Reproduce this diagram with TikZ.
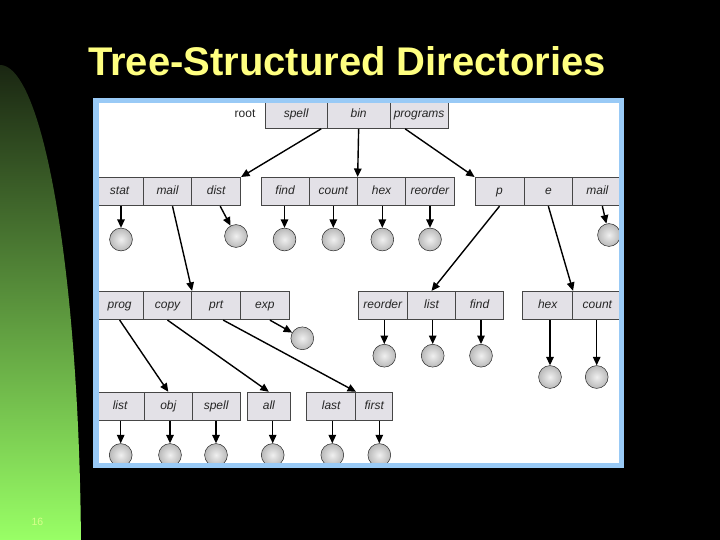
\documentclass[tikz,border=0pt]{standalone}
\usepackage{fontspec}
\setmainfont{Liberation Sans}
\usetikzlibrary{arrows.meta}
\definecolor{boxfill}{RGB}{227,225,231}
\definecolor{boxline}{RGB}{70,70,70}
\definecolor{framebl}{RGB}{153,202,246}
\definecolor{titleyel}{RGB}{255,255,128}
\definecolor{greentop}{RGB}{26,38,18}
\definecolor{greenmid}{RGB}{105,180,72}
\definecolor{greenbot}{RGB}{153,255,102}
\definecolor{pagenum}{RGB}{215,255,140}
\newcommand{\dirb}[5]{\node[dirbox, minimum width={#3-#2}] (#1) at ({(#2+#3)/2},#4) {#5};}
\begin{document}
\begin{tikzpicture}[x=1pt,y=-1pt,
  dirbox/.style={draw=boxline, line width=0.7pt, fill=boxfill, inner sep=0pt,
    text height=8.6pt, text depth=2.5pt,
    minimum height=28.5pt, font=\fontsize{12}{14}\selectfont\itshape, text=black!85},
  filec/.style={circle, draw=gray!30!black, line width=0.5pt, inner color=gray!12,
    outer color=gray!55, minimum size=22.8pt, inner sep=0pt},
  link/.style={line width=1.4pt, -{Triangle[length=8.5pt,width=7.5pt]}},
]
\useasboundingbox (0,0) rectangle (720,540);
\fill[black] (0,0) rectangle (720,540);
% green side band
\shade[top color=greentop, middle color=greenmid, bottom color=greenbot]
  (0,540) -- plot[domain=90:2.315, samples=90] ({81*cos(\x)},{560-495*sin(\x)}) -- cycle;
\node[font=\fontsize{10.5}{12}\selectfont, text=pagenum] (pnum) at (37.5,522) {16};
% title
\node[font=\fontsize{40}{48}\selectfont\bfseries, text=titleyel, anchor=base, inner sep=0pt]
  (title) at (347,76) {Tree-Structured Directories};
% white panel
\fill[white] (93,98) rectangle (624,468);
% root row
\node[font=\fontsize{12}{14}\selectfont, text=black!85, text height=8.6pt, text depth=2.5pt] (root) at (245,114.5) {root};
\dirb{spell}{265}{327.3}{114.25}{spell}
\dirb{bin}{327.3}{390}{114.25}{bin}
\dirb{programs}{390}{448.3}{114.25}{programs}
% row 1
\dirb{stat}{96}{143.3}{191.6}{stat}
\dirb{mail}{143.3}{191.7}{191.6}{mail}
\dirb{dist}{191.7}{240.7}{191.6}{dist}
\dirb{find}{261}{309.3}{191.6}{find}
\dirb{count}{309.3}{357.3}{191.6}{count}
\dirb{hex}{357.3}{405.7}{191.6}{hex}
\dirb{reorder}{405.7}{454}{191.6}{reorder}
\dirb{p}{475}{524}{191.6}{p}
\dirb{e}{524}{572.7}{191.6}{e}
\dirb{mailb}{572.7}{622}{191.6}{mail}
% row 2
\dirb{prog}{96}{143.3}{305.5}{prog}
\dirb{copy}{143.3}{191.7}{305.5}{copy}
\dirb{prt}{191.7}{240.7}{305.5}{prt}
\dirb{exp}{240.7}{289}{305.5}{exp}
\dirb{reorderb}{358.3}{407.3}{305.5}{reorder}
\dirb{list}{407.3}{455.7}{305.5}{list}
\dirb{findb}{455.7}{503.3}{305.5}{find}
\dirb{hexb}{522.7}{572.7}{305.5}{hex}
\dirb{countb}{572.7}{622}{305.5}{count}
% row 3
\dirb{listc}{96}{144.3}{406.4}{list}
\dirb{obj}{144.3}{192.3}{406.4}{obj}
\dirb{spellc}{192.3}{240}{406.4}{spell}
\dirb{all}{247.7}{290}{406.4}{all}
\dirb{last}{306.7}{355.7}{406.4}{last}
\dirb{first}{355.7}{392.7}{406.4}{first}
% files
\node[filec] (c-stat) at (121,239.5) {};
\node[filec] (c-dist) at (236,236) {};
\node[filec] (c-find) at (284.5,239.5) {};
\node[filec] (c-count) at (333.3,239.5) {};
\node[filec] (c-hex) at (382.3,239.5) {};
\node[filec] (c-reorder) at (430,239.5) {};
\node[filec] (c-mailb) at (609,235) {};
\node[filec] (c-exp) at (302.3,338.3) {};
\node[filec] (c-reorderb) at (384.3,355.7) {};
\node[filec] (c-list) at (432.7,355.7) {};
\node[filec] (c-findb) at (481,355.7) {};
\node[filec] (c-hexb) at (550,377) {};
\node[filec] (c-countb) at (596.7,377) {};
\node[filec] (c-listc) at (120.7,455) {};
\node[filec] (c-obj) at (170,455) {};
\node[filec] (c-spellc) at (216,455) {};
\node[filec] (c-all) at (272.7,455) {};
\node[filec] (c-last) at (332.3,455) {};
\node[filec] (c-first) at (379.3,455) {};
% directory links
\draw[link] ([xshift=25]spell.south) -- (dist.north east);
\draw[link] (bin.south) -- (count.north east);
\draw[link] ([xshift=-14]programs.south) -- (p.north west);
\draw[link] ([xshift=5]mail.south) -- (copy.north east);
\draw[link] (p.south) -- (list.north);
\draw[link] (e.south) -- (hexb.north east);
\draw[link] (prog.south) -- (obj.north);
\draw[link] (copy.south) -- (all.north);
\draw[link] ([xshift=7]prt.south) -- (last.north east);
% file links
\draw[link] (stat.south -| c-stat) -- (c-stat);
\draw[link] ([xshift=4]dist.south) -- (c-dist);
\draw[link] (find.south -| c-find) -- (c-find);
\draw[link] (count.south -| c-count) -- (c-count);
\draw[link] (hex.south -| c-hex) -- (c-hex);
\draw[link] (reorder.south -| c-reorder) -- (c-reorder);
\draw[link] ([xshift=5]mailb.south) -- (c-mailb);
\draw[link] ([xshift=5]exp.south) -- (c-exp);
\draw[link] (reorderb.south -| c-reorderb) -- (c-reorderb);
\draw[link] (list.south -| c-list) -- (c-list);
\draw[link] (findb.south -| c-findb) -- (c-findb);
\draw[link] (hexb.south -| c-hexb) -- (c-hexb);
\draw[link] (countb.south -| c-countb) -- (c-countb);
\draw[link] (listc.south -| c-listc) -- (c-listc);
\draw[link] (obj.south -| c-obj) -- (c-obj);
\draw[link] (spellc.south -| c-spellc) -- (c-spellc);
\draw[link] (all.south -| c-all) -- (c-all);
\draw[link] (last.south -| c-last) -- (c-last);
\draw[link] (first.south -| c-first) -- (c-first);
% blue frame
\draw[framebl, line width=5.5pt] (95.75,100.75) rectangle (621.25,465.25);
\end{tikzpicture}
\end{document}
